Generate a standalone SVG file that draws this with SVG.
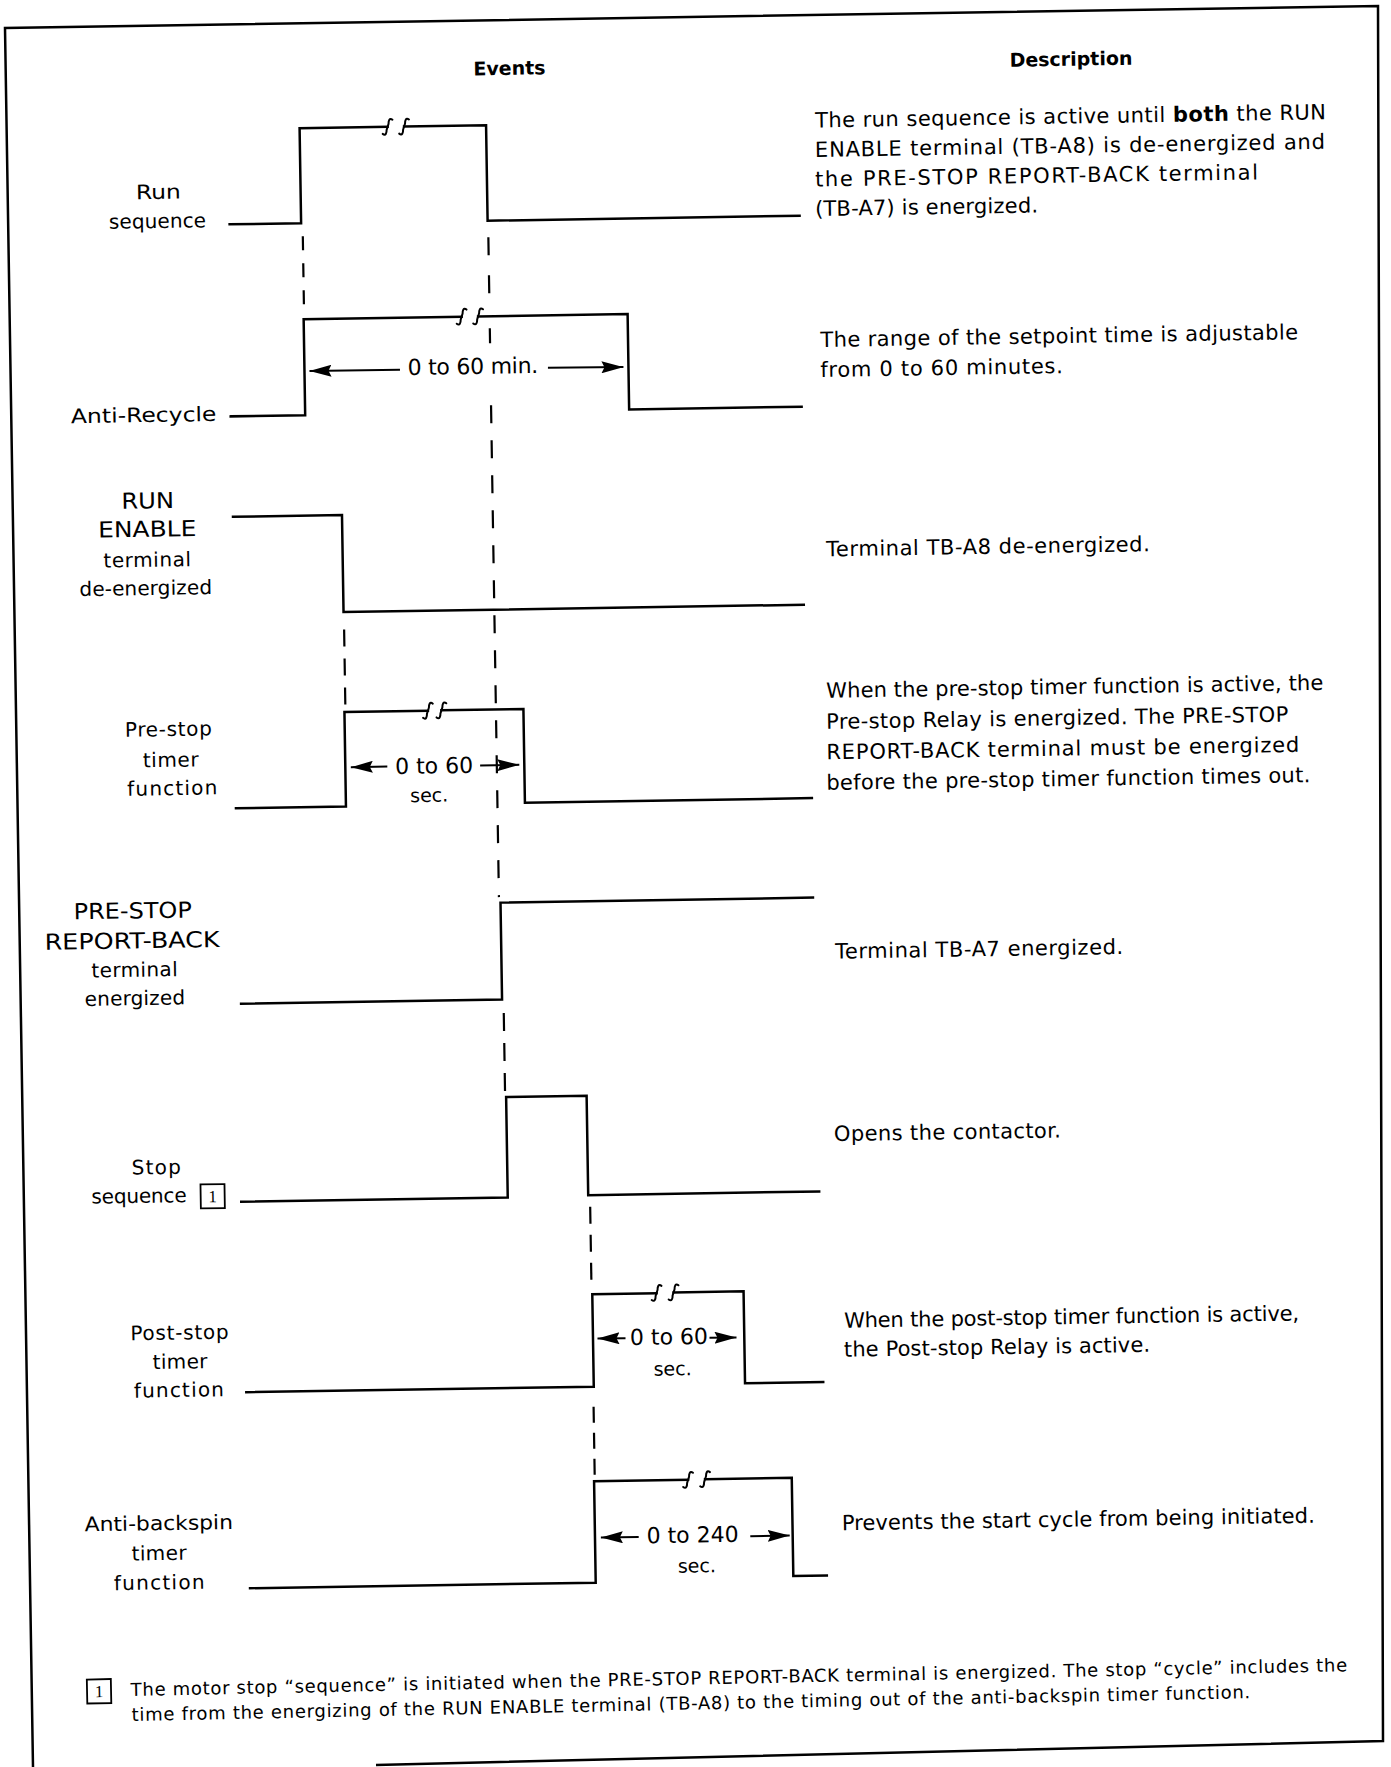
<svg xmlns="http://www.w3.org/2000/svg" width="1391" height="1767" viewBox="0 0 1391 1767">
<style>
.w{fill:none;stroke:#000;stroke-width:2.5;stroke-linejoin:miter;stroke-linecap:square}
.q{fill:none;stroke:#000;stroke-width:2;stroke-linecap:round}
.d{fill:none;stroke:#000;stroke-width:2.2}
.a{fill:none;stroke:#000;stroke-width:2;marker-end:url(#ah)}
.lbl{font-family:"DejaVu Sans",sans-serif;font-size:20px;text-anchor:middle;fill:#000}
.cap{font-size:22px}
.desc{font-family:"DejaVu Sans",sans-serif;font-size:21px;fill:#000}
.hd{font-family:"DejaVu Sans",sans-serif;font-size:19px;font-weight:bold;text-anchor:middle;fill:#000}
.num{font-family:"DejaVu Sans",sans-serif;font-size:22px;text-anchor:middle;fill:#000}
.sec{font-family:"DejaVu Sans",sans-serif;font-size:19px;text-anchor:middle;fill:#000}
.fn{font-family:"DejaVu Sans",sans-serif;font-size:18px;fill:#000}
.box{fill:none;stroke:#000;stroke-width:1.8}
.bn{font-family:"Liberation Serif",serif;font-size:17px;text-anchor:middle;fill:#000}
</style>
<defs>
<marker id="ah" viewBox="0 0 22 12" refX="22" refY="6" markerWidth="22" markerHeight="12" markerUnits="userSpaceOnUse" orient="auto"><path d="M0,0 L22,6 L0,12 L3,6 Z" fill="#000"/></marker>
</defs>
<rect x="0" y="0" width="1391" height="1767" fill="#fff"/>
<path id="frame" d="M33,1767 L5,28 L1378,6 L1383,1741 L376,1765" fill="none" stroke="#000" stroke-width="2.5"/>
<g transform="rotate(-0.917)">
<g id="headers">
<text class="hd" x="508.3" y="83">Events</text>
<text class="hd" x="1069.9" y="82.8">Description</text>
</g>
<g id="run-sequence">
<text class="lbl" x="155.3" y="201.5" font-size="21" textLength="45" lengthAdjust="spacingAndGlyphs">Run</text>
<text class="lbl" x="153.9" y="230.5" textLength="97">sequence</text>
<path class="w" d="M226,228 H297.5 V133 H385.5"/>
<path class="q" d="M390.5,126 C387.5,123.5 386.5,127 386.5,130 L384.5,136 C384.5,139 383.5,142.5 380.5,140"/>
<path class="q" d="M407,126 C404,123.5 403,127 403,130 L401,136 C401,139 400,142.5 397,140"/>
<path class="w" d="M402,133 H484 V228.5 H796"/>
<text class="desc" x="813" y="140.5" textLength="511">The run sequence is active until <tspan font-weight="bold">both</tspan> the RUN</text>
<text class="desc" x="812.5" y="170" textLength="510">ENABLE terminal (TB-A8) is de-energized and</text>
<text class="desc" x="812.1" y="199.5" textLength="443">the PRE-STOP REPORT-BACK terminal</text>
<text class="desc" x="811.6" y="229" textLength="223">(TB-A7) is energized.</text>
</g>
<g id="anti-recycle">
<text class="lbl" x="137" y="424.3" font-size="21" textLength="145.5" lengthAdjust="spacingAndGlyphs">Anti-Recycle</text>
<path class="w" d="M224,420 H298.5 V324 H456.5"/>
<path class="q" d="M461.5,317 C458.5,314.5 457.5,318 457.5,321 L455.5,327 C455.5,330 454.5,333.5 451.5,331"/>
<path class="q" d="M478,317 C475,314.5 474,318 474,321 L472,327 C472,330 471,333.5 468,331"/>
<path class="w" d="M473,324 H622.5 V419.5 H795"/>
<text class="num" x="467" y="381.5" textLength="130.6">0 to 60 min.</text>
<text class="desc" x="814.9" y="360" textLength="477.7">The range of the setpoint time is adjustable</text>
<text class="desc" x="814.4" y="390" textLength="242.4">from 0 to 60 minutes.</text>
</g>
<g id="run-enable">
<text class="lbl cap" x="139.7" y="510.7" textLength="52.7" lengthAdjust="spacingAndGlyphs">RUN</text>
<text class="lbl cap" x="138.7" y="539.1" textLength="98.2" lengthAdjust="spacingAndGlyphs">ENABLE</text>
<text class="lbl" x="138.2" y="569.1" textLength="87.5">terminal</text>
<text class="lbl" x="136.3" y="597.3" textLength="132.5">de-energized</text>
<path class="w" d="M224.7,520.5 H333.7 V617.5 H794"/>
<text class="desc" x="817.3" y="569.5" textLength="323.6">Terminal TB-A8 de-energized.</text>
</g>
<g id="pre-stop-timer">
<text class="lbl" x="156.7" y="738.7" textLength="87">Pre-stop</text>
<text class="lbl" x="158.5" y="769.4" textLength="55.8">timer</text>
<text class="lbl" x="159.6" y="797.8" textLength="90.2">function</text>
<path class="w" d="M223,812 H333 V717.5 H416.5"/>
<path class="q" d="M421.5,710.5 C418.5,708 417.5,711.5 417.5,714.5 L415.5,720.5 C415.5,723.5 414.5,727 411.5,724.5"/>
<path class="q" d="M435,710.3 C432,707.8 431,711.3 431,714.3 L429,720.3 C429,723.3 428,726.8 425,724.3"/>
<path class="w" d="M430,717.3 H512 V811 H799"/>
<text class="num" x="421.8" y="780.2">0 to 60</text>
<text class="sec" x="416.4" y="808.6">sec.</text>
<text class="desc" x="815.1" y="711" textLength="497">When the pre-stop timer function is active, the</text>
<text class="desc" x="814.6" y="742" textLength="462">Pre-stop Relay is energized. The PRE-STOP</text>
<text class="desc" x="814.2" y="772.5" textLength="473">REPORT-BACK terminal must be energized</text>
<text class="desc" x="813.7" y="803" textLength="484">before the pre-stop timer function times out.</text>
</g>
<g id="report-back">
<text class="lbl cap" x="118.1" y="920.4" font-size="21" textLength="118.3" lengthAdjust="spacingAndGlyphs">PRE-STOP</text>
<text class="lbl cap" x="117" y="950.4" font-size="21" textLength="175" lengthAdjust="spacingAndGlyphs">REPORT-BACK</text>
<text class="lbl" x="119" y="978.8" textLength="86.2">terminal</text>
<text class="lbl" x="118.9" y="1007.2" textLength="100.5">energized</text>
<path class="w" d="M225,1007.5 H486 V910.5 H798.5"/>
<text class="desc" x="819.8" y="971.8" textLength="288">Terminal TB-A7 energized.</text>
</g>
<g id="stop-sequence">
<text class="lbl" x="137.5" y="1176.5" textLength="49.1">Stop</text>
<text class="lbl" x="119.9" y="1204.9" textLength="95.1">sequence</text>
<rect class="box" x="181.5" y="1187.5" width="24" height="24"/>
<text class="bn" x="193.5" y="1205.5">1</text>
<path class="w" d="M222,1205.5 H488.5 V1105 H569 V1204.4 H800"/>
<text class="desc" x="815.7" y="1154.3" textLength="227">Opens the contactor.</text>
</g>
<g id="post-stop-timer">
<text class="lbl" x="158.1" y="1342.2" textLength="98.2">Post-stop</text>
<text class="lbl" x="158.2" y="1371.2" textLength="54.9">timer</text>
<text class="lbl" x="156.6" y="1399.6" textLength="90.2">function</text>
<path class="w" d="M224,1396 H571.5 V1303.5 H635.8"/>
<path class="q" d="M640.8,1296.3 C637.8,1293.8 636.8,1297.3 636.8,1300.3 L634.8,1306.3 C634.8,1309.3 633.8,1312.8 630.8,1310.3"/>
<path class="q" d="M657.8,1296 C654.8,1293.5 653.8,1297 653.8,1300 L651.8,1306 C651.8,1309 650.8,1312.5 647.8,1310"/>
<path class="w" d="M652.8,1303 H722.8 V1395 H801"/>
<text class="num" x="647.5" y="1355">0 to 60</text>
<text class="sec" x="650.6" y="1386">sec.</text>
<text class="desc" x="822.8" y="1341" textLength="455">When the post-stop timer function is active,</text>
<text class="desc" x="822.3" y="1370" textLength="306">the Post-stop Relay is active.</text>
</g>
<g id="anti-backspin-timer">
<text class="lbl" x="134.4" y="1532.5" font-size="21" textLength="148.2" lengthAdjust="spacingAndGlyphs">Anti-backspin</text>
<text class="lbl" x="134.2" y="1562.5" textLength="54.9">timer</text>
<text class="lbl" x="133.8" y="1591.8" textLength="90.7">function</text>
<path class="w" d="M224.6,1592 H570.3 V1490.5 H664.3"/>
<path class="q" d="M669.3,1483.7 C666.3,1481.2 665.3,1484.7 665.3,1487.7 L663.3,1493.7 C663.3,1496.7 662.3,1500.2 659.3,1497.7"/>
<path class="q" d="M686.3,1483.3 C683.3,1480.8 682.3,1484.3 682.3,1487.3 L680.3,1493.3 C680.3,1496.3 679.3,1499.8 676.3,1497.3"/>
<path class="w" d="M681.3,1490.3 H768 V1588.5 H801.5"/>
<text class="num" x="668" y="1553.4">0 to 240</text>
<text class="sec" x="671.7" y="1583.3">sec.</text>
<text class="desc" x="817.3" y="1543.5" textLength="473">Prevents the start cycle from being initiated.</text>
</g>
<g id="connectors">
<path class="d" d="M299,241 V318" stroke-dasharray="14 13"/>
<path class="d" d="M484.5,245 V263 M484.5,283 V301 M484.5,336 V351"/>
<path class="d" d="M484.5,413 V905" stroke-dasharray="18 17"/>
<path class="d" d="M334,635 V712" stroke-dasharray="17 12"/>
<path class="d" d="M487.5,1021 V1100" stroke-dasharray="18 12"/>
<path class="d" d="M570.8,1216 V1298" stroke-dasharray="17 11"/>
<path class="d" d="M571,1416 V1486" stroke-dasharray="16 10"/>
<path class="a" d="M394,376 L303.5,376"/>
<path class="a" d="M542,376.5 L617.5,377"/>
<path class="a" d="M375,772.7 L338.5,772.7"/>
<path class="a" d="M467.8,773 L507,773"/>
<path class="a" d="M604,1348 L576,1348"/>
<path class="a" d="M688,1349 L715,1349"/>
<path class="a" d="M614,1547 L576.2,1547"/>
<path class="a" d="M725.6,1548 L765,1548"/>
</g>
<g id="footnote" transform="translate(0 2.5) rotate(-0.25 104 1695)">
<rect class="box" x="60" y="1678" width="24" height="24"/>
<text class="bn" x="72" y="1696">1</text>
<text class="fn" x="103.7" y="1695.4" textLength="1216.6">The motor stop “sequence” is initiated when the PRE-STOP REPORT-BACK terminal is energized. The stop “cycle” includes the</text>
<text class="fn" x="104.2" y="1720.4" textLength="1118.7">time from the energizing of the RUN ENABLE terminal (TB-A8) to the timing out of the anti-backspin timer function.</text>
</g>
</g>
</svg>
